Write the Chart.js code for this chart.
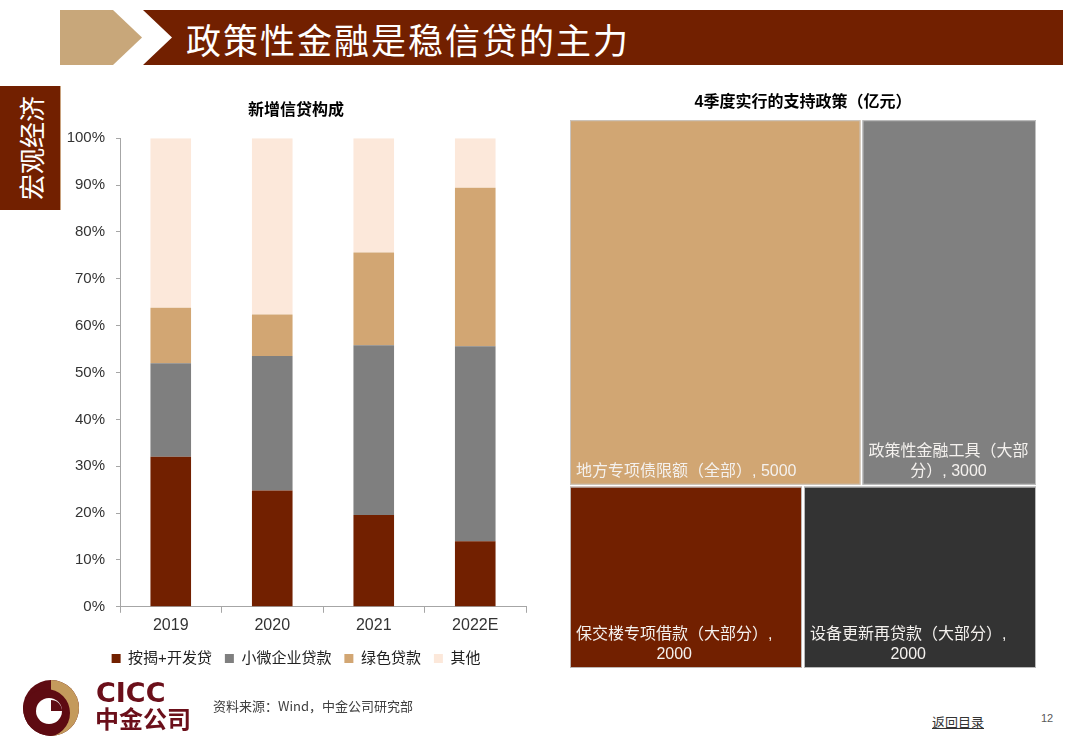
<!DOCTYPE html>
<html lang="zh-CN">
<head>
<meta charset="utf-8">
<title>政策性金融是稳信贷的主力</title>
<script src="https://cdn.jsdelivr.net/npm/chart.js@4.4.0/dist/chart.umd.min.js"></script>
<style>
  html, body { margin: 0; padding: 0; background: #fff; }
  body {
    width: 1080px; height: 755px; position: relative; overflow: hidden;
    font-family: 'Liberation Sans', Arial, 'Noto Sans CJK SC', sans-serif;
  }
  .abs { position: absolute; }
  #headerTitle {
    left: 186px; top: 16px; color: #fff; font-size: 35px; letter-spacing: 2px;
    font-family: 'Noto Sans CJK SC', sans-serif; line-height: 46px; white-space: nowrap;
  }
  #sideTag { left: 0; top: 86px; width: 60px; height: 124px; background: #722000; border-right: 1px solid #c9a27e; }
  #sideTag span {
    position: absolute; left: 30px; top: 62px; transform: translate(-50%, -50%) rotate(-90deg);
    color: #fff; font-size: 26px; white-space: nowrap; font-family: 'Noto Sans CJK SC', sans-serif;
  }
  #source { left: 213px; top: 696px; font-size: 13px; color: #404040; font-family: 'Noto Sans CJK SC', sans-serif; }
  #backLink { left: 932px; top: 712px; font-size: 13px; color: #333; text-decoration: underline; font-family: 'Noto Sans CJK SC', sans-serif; }
  #pageNo { left: 1041px; top: 712px; font-size: 11px; color: #595959; }
  .cicc { color: #6b0f1a; font-weight: bold; white-space: nowrap; }
</style>
</head>
<body>

<svg class="abs" style="left:0;top:0" width="1080" height="80">
  <polygon points="60,10 113,10 142,37.5 113,65 60,65" fill="#c8a77a"/>
  <polygon points="143,10 1063,10 1063,65 143,65 172,37.5" fill="#722000"/>
</svg>
<div id="headerTitle" class="abs">政策性金融是稳信贷的主力</div>

<div id="sideTag" class="abs"><span>宏观经济</span></div>

<canvas id="creditChart" class="abs" style="left:50px;top:85px" width="490" height="600"></canvas>
<canvas id="policyChart" class="abs" style="left:560px;top:85px" width="490" height="590"></canvas>

<svg class="abs" style="left:0;top:670px" width="90" height="75">
  <defs>
    <clipPath id="ringClip"><circle cx="51" cy="38" r="28"/></clipPath>
  </defs>
  <circle cx="51" cy="38" r="28" fill="#5e0b12"/>
  <g clip-path="url(#ringClip)">
    <rect x="51" y="8" width="32" height="62" fill="#c49a5c"/>
    <circle cx="46" cy="43" r="24" fill="#5e0b12"/>
  </g>
  <circle cx="49" cy="41" r="13" fill="#fff"/>
  <path d="M51 41 L51 30 A11 11 0 0 1 62 41 Z" fill="#5e0b12"/>
</svg>
<div class="abs cicc" style="left:96px;top:678px;font-size:27px;line-height:30px;font-family:'DejaVu Sans',sans-serif;">CICC</div>
<div class="abs cicc" style="left:95px;top:704px;font-size:24px;line-height:28px;font-family:'Noto Sans CJK SC',sans-serif;">中金公司</div>

<div id="source" class="abs">资料来源：Wind，中金公司研究部</div>
<div id="backLink" class="abs">返回目录</div>
<div id="pageNo" class="abs">12</div>

<script>
// new loan composition, share of total (%)
const years = ['2019', '2020', '2021', '2022E'];
const mortgageDev = [32.0, 24.8, 19.6, 14.0];
const smallMicro = [20.0, 28.7, 36.2, 41.6];
const greenLoans = [11.8, 8.9, 19.8, 33.8];
const others = [36.2, 37.6, 24.4, 10.6];
const percentTicks = [0, 10, 20, 30, 40, 50, 60, 70, 80, 90, 100];

// Q4 support policies (100m yuan)
const policyNames = ['地方专项债限额（全部）', '政策性金融工具（大部分）', '保交楼专项借款（大部分）', '设备更新再贷款（大部分）'];
const policyValues = [5000, 3000, 2000, 2000];
const policyColors = ['#d1a673', '#808080', '#722000', '#333333'];

Chart.defaults.font.family = "'Liberation Sans', Arial, 'Noto Sans CJK SC', sans-serif";

/**
 * Stacked bar chart on the left
 */
function initializeCreditChart() {
    const ctx = document.getElementById('creditChart');
    if (!ctx) return;

    new Chart(ctx, {
        type: 'bar',
        data: {
            labels: years,
            datasets: [
                { label: '按揭+开发贷', data: mortgageDev, backgroundColor: '#722000' },
                { label: '小微企业贷款', data: smallMicro, backgroundColor: '#7f7f7f' },
                { label: '绿色贷款', data: greenLoans, backgroundColor: '#d2a673' },
                { label: '其他', data: others, backgroundColor: '#fce8da' }
            ]
        },
        options: {
            responsive: false,
            animation: false,
            layout: { padding: { left: 16, right: 14, bottom: 9 } },
            datasets: { bar: { barPercentage: 0.4, categoryPercentage: 1.0 } },
            plugins: {
                title: {
                    display: true,
                    text: '新增信贷构成',
                    color: '#000',
                    font: { size: 16, weight: 'bold' },
                    padding: { top: 16, bottom: 18 }
                },
                legend: {
                    position: 'bottom',
                    labels: { boxWidth: 9, boxHeight: 9, color: '#222', font: { size: 15 }, padding: 13 }
                },
                tooltip: { enabled: false }
            },
            scales: {
                x: {
                    stacked: true,
                    grid: { drawOnChartArea: false, offset: true, tickLength: 6, color: '#a6a6a6' },
                    border: { color: '#a6a6a6' },
                    ticks: { color: '#333', font: { size: 16 }, padding: 3 }
                },
                y: {
                    stacked: true,
                    min: 0,
                    max: 100,
                    afterBuildTicks: scale => { scale.ticks = percentTicks.map(v => ({ value: v })); },
                    afterFit: scale => { scale.width = 54; },
                    ticks: { color: '#333', font: { size: 15 }, padding: 11, callback: v => v + '%' },
                    grid: { drawOnChartArea: false, tickLength: 4, color: '#a6a6a6' },
                    border: { color: '#a6a6a6' }
                }
            }
        }
    });
}

// squarified layout, rows kept while the mean aspect ratio improves
function rowShapes(row, areas, r) {
    const sum = row.reduce((s, k) => s + areas[k], 0);
    const tall = r.w < r.h;
    const thick = tall ? sum / r.w : sum / r.h;
    return row.map(k => tall ? { w: areas[k] / thick, h: thick } : { w: thick, h: areas[k] / thick });
}

function meanRatio(row, areas, r) {
    const shapes = rowShapes(row, areas, r);
    return shapes.reduce((s, c) => s + Math.max(c.w / c.h, c.h / c.w), 0) / shapes.length;
}

function placeRow(row, areas, r, out) {
    const shapes = rowShapes(row, areas, r);
    const tall = r.w < r.h;
    let offset = 0;
    row.forEach((k, j) => {
        const s = shapes[j];
        if (tall) {
            out[k] = { x: r.x + offset, y: r.y, w: s.w, h: s.h };
            offset += s.w;
        } else {
            out[k] = { x: r.x, y: r.y + offset, w: s.w, h: s.h };
            offset += s.h;
        }
    });
    const thick = tall ? shapes[0].h : shapes[0].w;
    return tall ? { x: r.x, y: r.y + thick, w: r.w, h: r.h - thick }
                : { x: r.x + thick, y: r.y, w: r.w - thick, h: r.h };
}

function squarify(values, rect) {
    const total = values.reduce((a, b) => a + b, 0);
    const areas = values.map(v => v / total * rect.w * rect.h);
    const out = [];
    let r = { ...rect };
    let row = [];
    let i = 0;
    while (i < areas.length) {
        const next = row.concat([i]);
        if (row.length === 0 || meanRatio(next, areas, r) <= meanRatio(row, areas, r)) {
            row = next;
            i++;
        } else {
            r = placeRow(row, areas, r, out);
            row = [];
        }
    }
    if (row.length) placeRow(row, areas, r, out);
    return out;
}

function wrapLabel(ctx, text, maxW) {
    const tokens = text.match(/[A-Za-z0-9.]+|\s+|[^\sA-Za-z0-9.]/g);
    const lines = [];
    let line = '';
    tokens.forEach(t => {
        if (line && ctx.measureText(line + t).width > maxW) {
            lines.push(line.trimEnd());
            line = t.trimStart();
        } else {
            line += t;
        }
    });
    if (line) lines.push(line);
    return lines;
}

const treemapPlugin = {
    id: 'treemapCells',
    afterDatasetsDraw(chart) {
        const { ctx, chartArea, scales: { x, y } } = chart;
        const aspect = chartArea.width / chartArea.height;
        const cells = squarify(policyValues, { x: 0, y: 0, w: aspect, h: 1 });

        ctx.save();
        cells.forEach((c, i) => {
            const left = x.getPixelForValue(c.x / aspect) + 1;
            const right = x.getPixelForValue((c.x + c.w) / aspect) - 1;
            const top = y.getPixelForValue(1 - c.y) + 1;
            const bottom = y.getPixelForValue(1 - c.y - c.h) - 1;

            ctx.fillStyle = policyColors[i];
            ctx.fillRect(left, top, right - left, bottom - top);
            ctx.strokeStyle = 'rgba(200,200,200,0.9)';
            ctx.lineWidth = 1;
            ctx.strokeRect(left + 0.5, top + 0.5, right - left - 1, bottom - top - 1);

            ctx.font = '16px "Liberation Sans", Arial, "Noto Sans CJK SC", sans-serif';
            ctx.fillStyle = '#f4f1ee';
            ctx.textBaseline = 'middle';
            ctx.textAlign = 'center';
            const pad = 6;
            const lines = wrapLabel(ctx, policyNames[i] + ', ' + policyValues[i], right - left - pad * 2);
            const blockW = Math.max(...lines.map(l => ctx.measureText(l).width));
            const cx = left + pad + blockW / 2;
            lines.forEach((l, j) => {
                const ly = bottom - 13 - (lines.length - 1 - j) * 20;
                ctx.fillText(l, cx, ly);
            });
        });
        ctx.restore();
    }
};

/**
 * Treemap of Q4 policies on the right
 */
function initializePolicyChart() {
    const ctx = document.getElementById('policyChart');
    if (!ctx) return;

    new Chart(ctx, {
        type: 'scatter',
        data: { datasets: [{ data: [] }] },
        options: {
            responsive: false,
            animation: false,
            layout: { padding: { left: 9, right: 13, bottom: 6 } },
            plugins: {
                legend: { display: false },
                tooltip: { enabled: false },
                title: {
                    display: true,
                    text: '4季度实行的支持政策（亿元）',
                    color: '#000',
                    font: { size: 16, weight: 'bold' },
                    padding: { top: 8, bottom: 7 }
                }
            },
            scales: {
                x: { type: 'linear', min: 0, max: 1, display: false },
                y: { type: 'linear', min: 0, max: 1, display: false }
            }
        },
        plugins: [treemapPlugin]
    });
}

initializeCreditChart();
initializePolicyChart();
</script>
</body>
</html>
